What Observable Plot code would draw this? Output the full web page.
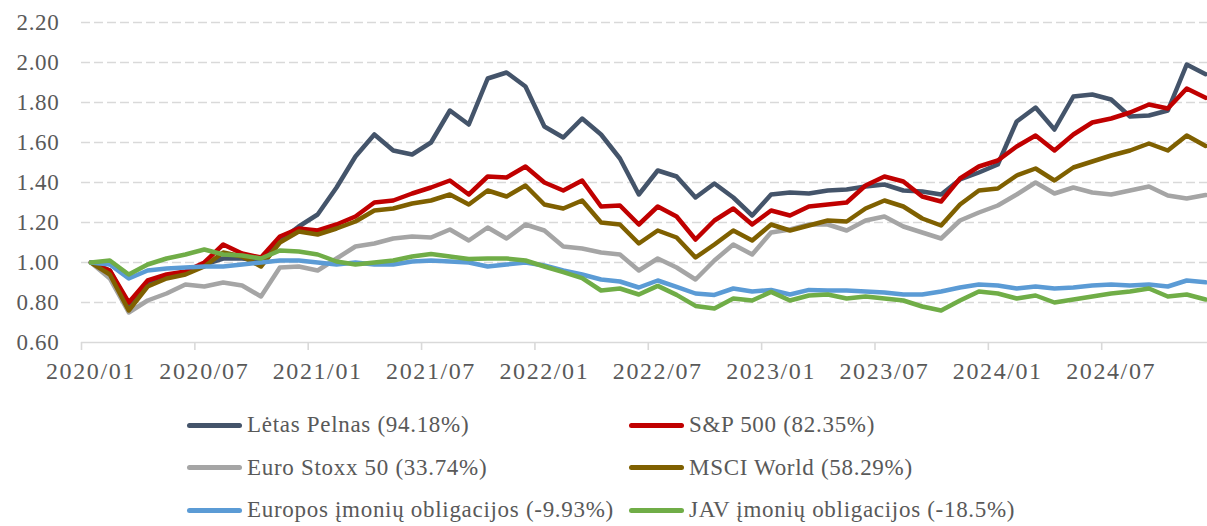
<!DOCTYPE html>
<html>
<head>
<meta charset="utf-8">
<script src="https://cdn.jsdelivr.net/npm/d3@7"></script>
<script src="https://cdn.jsdelivr.net/npm/@observablehq/plot@0.6"></script>
<style>
  html, body { margin: 0; padding: 0; background: #fff; }
  body { width: 1207px; height: 526px; position: relative; overflow: hidden; font-family: "Liberation Serif", serif; }
  #chart { position: absolute; left: 0; top: 0; }
  g[aria-label="x-axis tick label"] text { letter-spacing: 1.6px; }
  g[aria-label="y-axis tick label"] text { letter-spacing: 0.7px; }
  #legend { position: absolute; left: 0; top: 404px; width: 1207px; }
  .item { position: absolute; display: flex; align-items: center; height: 42px; font-size: 23px; color: #595959; letter-spacing: 0.7px; white-space: nowrap; }
  .sw { width: 55px; height: 5px; border-radius: 3px; margin-right: 5px; }
</style>
</head>
<body>
<div id="chart"></div>
<div id="legend"></div>
<script>
// Category labels (monthly, 2020/01 .. 2024/12)
const xTickLabels = ["2020/01","2020/07","2021/01","2021/07","2022/01","2022/07","2023/01","2023/07","2024/01","2024/07"];
const yTicks = [0.6, 0.8, 1.0, 1.2, 1.4, 1.6, 1.8, 2.0, 2.2];

const seriesNames = [
  "Lėtas Pelnas (94.18%)",
  "S&P 500 (82.35%)",
  "Euro Stoxx 50 (33.74%)",
  "MSCI World (58.29%)",
  "Europos įmonių obligacijos (-9.93%)",
  "JAV įmonių obligacijos (-18.5%)"
];
const seriesColors = ["#44546A", "#C00000", "#A5A5A5", "#7F6000", "#5B9BD5", "#70AD47"];

const letasPelnas = [1.00,0.96,0.79,0.90,0.93,0.95,0.99,1.02,1.02,1.01,1.11,1.18,1.24,1.375,1.53,1.64,1.56,1.54,1.60,1.76,1.69,1.92,1.95,1.88,1.68,1.625,1.72,1.64,1.52,1.34,1.46,1.43,1.325,1.395,1.325,1.235,1.34,1.35,1.345,1.36,1.365,1.38,1.39,1.36,1.355,1.34,1.415,1.45,1.49,1.705,1.775,1.665,1.83,1.84,1.815,1.73,1.735,1.76,1.99,1.9418];
const sp500 = [1.00,0.96,0.80,0.91,0.94,0.955,1.00,1.09,1.045,1.025,1.13,1.17,1.16,1.19,1.23,1.30,1.31,1.345,1.375,1.41,1.34,1.43,1.425,1.48,1.40,1.36,1.41,1.28,1.285,1.19,1.28,1.23,1.115,1.21,1.27,1.19,1.26,1.235,1.28,1.29,1.30,1.385,1.43,1.405,1.33,1.305,1.42,1.48,1.51,1.58,1.635,1.56,1.64,1.70,1.72,1.75,1.79,1.77,1.87,1.8235];
const euroStoxx = [1.00,0.92,0.75,0.81,0.845,0.89,0.88,0.90,0.885,0.83,0.975,0.98,0.96,1.02,1.08,1.095,1.12,1.13,1.125,1.165,1.11,1.175,1.12,1.19,1.16,1.08,1.07,1.05,1.04,0.96,1.02,0.975,0.915,1.01,1.09,1.04,1.15,1.165,1.19,1.19,1.16,1.21,1.23,1.18,1.15,1.12,1.21,1.25,1.285,1.34,1.40,1.345,1.375,1.35,1.34,1.36,1.38,1.335,1.32,1.3374];
const msciWorld = [1.00,0.94,0.76,0.88,0.92,0.94,0.98,1.05,1.03,0.98,1.10,1.155,1.14,1.17,1.205,1.26,1.27,1.295,1.31,1.34,1.29,1.36,1.33,1.385,1.29,1.27,1.31,1.20,1.19,1.095,1.16,1.125,1.025,1.09,1.16,1.11,1.19,1.16,1.185,1.21,1.205,1.27,1.31,1.28,1.22,1.185,1.29,1.36,1.37,1.435,1.47,1.41,1.475,1.505,1.535,1.56,1.595,1.56,1.635,1.5829];
const euroBonds = [1.00,0.99,0.92,0.96,0.97,0.975,0.98,0.98,0.99,1.00,1.01,1.01,1.00,0.99,1.00,0.99,0.99,1.005,1.01,1.005,1.00,0.98,0.99,1.00,0.985,0.96,0.94,0.915,0.905,0.875,0.91,0.878,0.845,0.838,0.87,0.855,0.863,0.84,0.863,0.86,0.86,0.855,0.85,0.84,0.84,0.855,0.875,0.89,0.885,0.87,0.88,0.87,0.875,0.885,0.89,0.885,0.89,0.88,0.91,0.9007];
const usBonds = [1.00,1.01,0.94,0.99,1.02,1.04,1.065,1.04,1.035,1.02,1.06,1.055,1.04,1.005,0.99,1.00,1.01,1.03,1.042,1.03,1.017,1.02,1.02,1.01,0.98,0.952,0.922,0.86,0.87,0.84,0.883,0.838,0.783,0.77,0.82,0.81,0.853,0.81,0.835,0.84,0.82,0.83,0.82,0.81,0.78,0.76,0.81,0.855,0.845,0.82,0.835,0.80,0.815,0.83,0.845,0.855,0.87,0.83,0.84,0.815];

const seriesValues = [letasPelnas, sp500, euroStoxx, msciWorld, euroBonds, usBonds];

const rows = [];
seriesValues.forEach((vals, s) => vals.forEach((v, i) => rows.push({i, v, name: seriesNames[s]})));

const labelPositions = xTickLabels.map((_, k) => k * 6);
const boundaryPositions = xTickLabels.map((_, k) => k * 6 - 0.5);

const chart = Plot.plot({
  width: 1207,
  height: 390,
  marginLeft: 81,
  marginRight: 0,
  marginTop: 22,
  marginBottom: 48,
  style: {fontFamily: "'Liberation Serif', serif", fontSize: "23px", color: "#595959", background: "#fff"},
  x: {type: "linear", domain: [-0.5, 59.1], axis: null},
  y: {domain: [0.6, 2.2], axis: null},
  color: {domain: seriesNames, range: seriesColors},
  marks: [
    Plot.gridY(yTicks.filter(d => d > 0.6), {stroke: "#d9d9d9", strokeOpacity: 1, strokeWidth: 1.6, strokeDasharray: "9,4"}),
    Plot.ruleY([0.6], {stroke: "#d9d9d9", strokeWidth: 1.6}),
    Plot.axisY(yTicks, {tickSize: 0, tickPadding: 22, tickFormat: d => d.toFixed(2), fill: "#595959", fontSize: 23, label: null}),
    Plot.axisX(boundaryPositions, {tickSize: 8, stroke: "#d9d9d9", strokeWidth: 1.6, tickFormat: () => "", label: null}),
    Plot.axisX(labelPositions, {tickSize: 0, tickPadding: 19, tickFormat: d => xTickLabels[d / 6], fill: "#595959", fontSize: 24, label: null}),
    Plot.line(rows, {x: "i", y: "v", z: "name", stroke: "name", strokeWidth: 4.5, strokeLinejoin: "round", strokeLinecap: "round"})
  ]
});
document.getElementById("chart").appendChild(chart);

// Legend (HTML, below the SVG)
const legend = document.getElementById("legend");
const colLeft = [187, 629];
seriesNames.forEach((name, k) => {
  const item = document.createElement("div");
  item.className = "item";
  item.style.left = colLeft[k % 2] + "px";
  item.style.top = (Math.floor(k / 2) * 42.5) + "px";
  const sw = document.createElement("span");
  sw.className = "sw";
  sw.style.background = seriesColors[k];
  const tx = document.createElement("span");
  tx.textContent = name;
  item.appendChild(sw);
  item.appendChild(tx);
  legend.appendChild(item);
});
</script>
</body>
</html>
